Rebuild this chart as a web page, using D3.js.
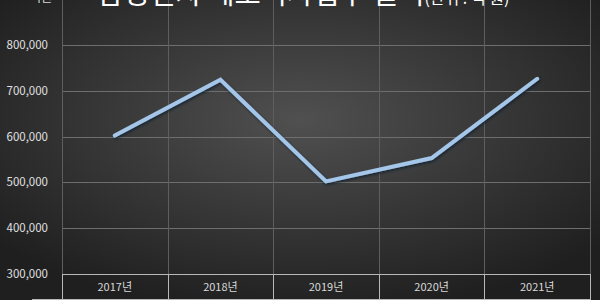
<!DOCTYPE html>
<html>
<head>
<meta charset="utf-8">
<script src="https://cdn.jsdelivr.net/npm/d3@7"></script>
<style>
  html, body { margin: 0; padding: 0; background: #2a2a2a; }
  svg { display: block; font-family: "Noto Sans CJK KR", "Noto Sans", sans-serif; }
</style>
</head>
<body>
<div id="chart"></div>
<script>
const years  = ['2017년', '2018년', '2019년', '2020년', '2021년']
const sales  = [602000, 724000, 502000, 553000, 726000]
const yTicks = [300000, 400000, 500000, 600000, 700000, 800000]

const WIDTH  = 600
const HEIGHT = 300

const svg = d3.select('#chart').append('svg')
    .attr('width', WIDTH)
    .attr('height', HEIGHT)

const defs = svg.append('defs')

const bg = defs.append('radialGradient')
    .attr('id', 'bg')
    .attr('cx', '50%').attr('cy', '40%').attr('r', '65%')
bg.append('stop').attr('offset', '0%').attr('stop-color', '#505050')
bg.append('stop').attr('offset', '100%').attr('stop-color', '#1f1f1f')

defs.append('filter')
    .attr('id', 'shadow')
    .attr('x', '-10%').attr('y', '-10%').attr('width', '120%').attr('height', '130%')
    .append('feDropShadow')
    .attr('dx', 1).attr('dy', 1.5)
    .attr('stdDeviation', 1)
    .attr('flood-color', '#0b1a2e')
    .attr('flood-opacity', 0.85)

svg.append('rect')
    .attr('width', WIDTH)
    .attr('height', HEIGHT)
    .attr('fill', 'url(#bg)')

// scales
const x = d3.scaleBand()
    .domain(years)
    .range([62, 590])

const y = d3.scaleLinear()
    .domain([300000, 900000])
    .range([274, -1])

// horizontal gridlines
svg.append('g')
    .selectAll('line')
    .data(yTicks.slice(1))
    .join('line')
    .attr('x1', 62)
    .attr('x2', 590)
    .attr('y1', d => Math.round(y(d)) + 0.5)
    .attr('y2', d => Math.round(y(d)) + 0.5)
    .attr('stroke', '#6e6e6e')
    .attr('stroke-width', 1)

// vertical gridlines at category boundaries
const bounds = years.map(d => x(d)).concat([x.range()[1]])
svg.append('g')
    .selectAll('line')
    .data(bounds)
    .join('line')
    .attr('x1', d => Math.round(d) + 0.5)
    .attr('x2', d => Math.round(d) + 0.5)
    .attr('y1', 0)
    .attr('y2', 274)
    .attr('stroke', '#5e5e5e')
    .attr('stroke-width', 1)

// category table
const table = svg.append('g').attr('stroke', '#b8b8b8').attr('stroke-width', 1)
table.append('line')
    .attr('x1', 62).attr('x2', 590)
    .attr('y1', 274.5).attr('y2', 274.5)
table.append('line')
    .attr('x1', 32).attr('x2', 590)
    .attr('y1', 299.5).attr('y2', 299.5)
table.selectAll('.sep')
    .data(bounds)
    .join('line')
    .attr('class', 'sep')
    .attr('x1', d => Math.round(d) + 0.5)
    .attr('x2', d => Math.round(d) + 0.5)
    .attr('y1', 274)
    .attr('y2', 300)

svg.append('g')
    .selectAll('text')
    .data(years)
    .join('text')
    .attr('x', d => x(d) + x.bandwidth() / 2)
    .attr('y', 291)
    .attr('text-anchor', 'middle')
    .attr('fill', '#d9d9d9')
    .attr('font-size', 11)
    .text(d => d)

// y axis labels
const fmt = d3.format(',')
svg.append('g')
    .selectAll('text')
    .data(yTicks)
    .join('text')
    .attr('x', 48)
    .attr('y', d => y(d) + 4)
    .attr('text-anchor', 'end')
    .attr('fill', '#e0e0e0')
    .attr('font-size', 11.5)
    .text(d => fmt(d))

// the line
const line = d3.line()
    .x((d, i) => x(years[i]) + x.bandwidth() / 2)
    .y(d => y(d))

svg.append('path')
    .datum(sales)
    .attr('d', line)
    .attr('fill', 'none')
    .attr('stroke', '#a4c6e8')
    .attr('stroke-width', 4)
    .attr('stroke-linejoin', 'miter')
    .attr('stroke-linecap', 'round')
    .attr('filter', 'url(#shadow)')

// title, cut off at the top edge like the source image
const title = svg.append('text')
    .attr('x', 97)
    .attr('y', 4)
    .attr('fill', '#ffffff')
    .attr('font-size', 28.5)
title.append('tspan').text('삼성전자 메모리사업부 실적')
title.append('tspan')
    .attr('font-size', 16)
    .text('(단위 : 억 원)')

svg.append('text')
    .attr('x', 30)
    .attr('y', 2)
    .attr('fill', '#d9d9d9')
    .attr('font-size', 12)
    .text('억원')
</script>
</body>
</html>
